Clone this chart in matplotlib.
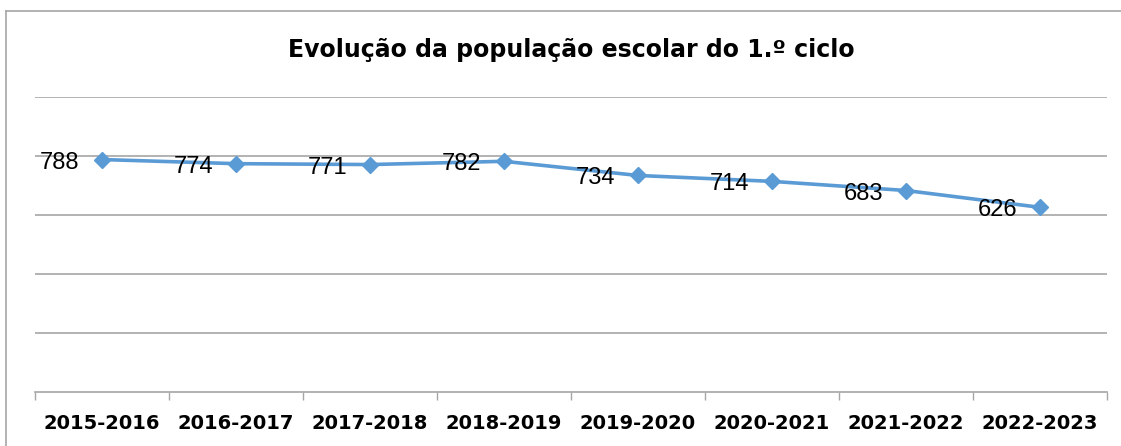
import matplotlib
matplotlib.use("Agg")
import matplotlib.pyplot as plt
from matplotlib.lines import Line2D
import numpy as np

categories = ["2015-2016", "2016-2017", "2017-2018", "2018-2019",
              "2019-2020", "2020-2021", "2021-2022", "2022-2023"]
values = [788, 774, 771, 782, 734, 714, 683, 626]
title = "Evolução da população escolar do 1.º ciclo"

W, H = 1121, 446
fig = plt.figure(figsize=(W / 100, H / 100), dpi=100)
ax = fig.add_axes([35 / W, (H - 392) / H, (1107 - 35) / W, (392 - 97) / H])

x = np.arange(len(categories))
ax.plot(x, values, color="#5B9BD5", lw=2.6, marker="D", markersize=8,
        zorder=3, clip_on=False)
for xi, v in zip(x, values):
    ax.annotate(str(v), (xi, v), xytext=(-23, -3), textcoords="offset pixels",
                ha="right", va="center", fontsize=17, family="Liberation Sans",
                color="black", zorder=4)

ax.set_xlim(-0.5, len(categories) - 0.5)
ax.set_ylim(0, 1000)
ax.set_yticks([200, 400, 600, 800, 1000])
ax.yaxis.grid(True, color="#A6A6A6", lw=1.2)
ax.set_axisbelow(True)
ax.tick_params(axis="y", left=False, labelleft=False)
for s in ["left", "right", "top"]:
    ax.spines[s].set_visible(False)
ax.spines["bottom"].set_color("#A6A6A6")
ax.spines["bottom"].set_linewidth(1.2)

ax.set_xticks(np.arange(len(categories) + 1) - 0.5, minor=False)
ax.set_xticklabels([])
ax.tick_params(axis="x", which="major", length=6, color="#A6A6A6", width=1)
ax.set_xticks(x, minor=True)
ax.set_xticklabels(categories, minor=True, fontsize=14, fontweight="bold",
                   family="DejaVu Sans")
ax.tick_params(axis="x", which="minor", length=0, pad=16)

fig.text(571 / W, 1 - 50 / H, title, ha="center", va="center",
         fontsize=17, fontweight="bold", family="DejaVu Sans")

# outer chart border (left and top visible)
fig.add_artist(Line2D([6 / W, 6 / W], [0, 1 - 11 / H], transform=fig.transFigure,
                      color="#A6A6A6", lw=1.2))
fig.add_artist(Line2D([6 / W, 1], [1 - 11 / H, 1 - 11 / H], transform=fig.transFigure,
                      color="#A6A6A6", lw=1.2))

fig.savefig("out.png", dpi=100, facecolor="white")
